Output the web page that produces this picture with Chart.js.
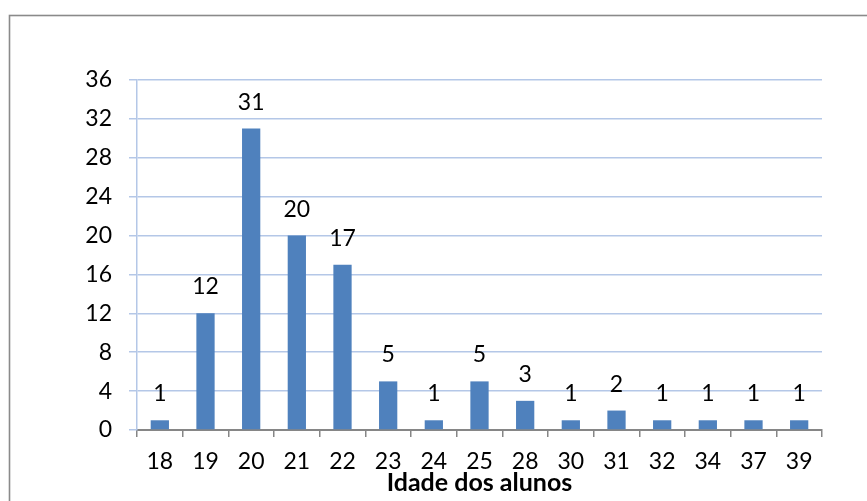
<!DOCTYPE html>
<html>
<head>
<meta charset="utf-8">
<script src="https://cdn.jsdelivr.net/npm/chart.js@4/dist/chart.umd.min.js"></script>
<style>
  html, body { margin: 0; padding: 0; background: #ffffff; overflow: hidden; }
  #wrap { width: 867px; height: 501px; position: relative; }
</style>
</head>
<body>
<div id="wrap"><canvas id="c" width="867" height="501"></canvas></div>
<script>
// Age of the students and how many students have each age
const ages = ['18', '19', '20', '21', '22', '23', '24', '25', '28', '30', '31', '32', '34', '37', '39'];
const counts = [1, 12, 31, 20, 17, 5, 1, 5, 3, 1, 2, 1, 1, 1, 1];
const yMin = 0;
const yMax = 36;
const yStep = 4;
const axisTitle = 'Idade dos alunos';

const FONT = 'Lato, "Open Sans", sans-serif';
const TEXT_SIZE = 23;

// Grey frame around the whole chart
const framePlugin = {
  id: 'frame',
  beforeDraw(chart) {
    const ctx = chart.ctx;
    ctx.save();
    ctx.fillStyle = '#ffffff';
    ctx.fillRect(0, 0, chart.width, chart.height);
    ctx.strokeStyle = '#8a8a8a';
    ctx.lineWidth = 1.6;
    ctx.strokeRect(9.5, 15.5, chart.width + 50, chart.height + 50);
    ctx.restore();
  }
};

// Value written above each bar
const valueLabels = {
  id: 'valueLabels',
  afterDatasetsDraw(chart) {
    const ctx = chart.ctx;
    const meta = chart.getDatasetMeta(0);
    ctx.save();
    ctx.font = TEXT_SIZE + 'px ' + FONT;
    ctx.fillStyle = '#000000';
    ctx.textAlign = 'center';
    ctx.textBaseline = 'alphabetic';
    meta.data.forEach((bar, i) => {
      ctx.fillText(String(counts[i]), bar.x, bar.y - 19);
    });
    ctx.restore();
  }
};

new Chart(document.getElementById('c'), {
  type: 'bar',
  data: {
    labels: ages,
    datasets: [{
      data: counts,
      backgroundColor: '#4f81bd',
      borderWidth: 0,
      barPercentage: 0.4,
      categoryPercentage: 1.0
    }]
  },
  options: {
    responsive: false,
    animation: false,
    devicePixelRatio: 1,
    layout: { padding: { top: 80, right: 45, left: 0, bottom: 0 } },
    plugins: {
      legend: { display: false },
      tooltip: { enabled: false }
    },
    scales: {
      x: {
        offset: true,
        grid: {
          offset: true,
          drawOnChartArea: false,
          drawTicks: true,
          tickLength: 7,
          color: '#868686',
          lineWidth: 1.5
        },
        border: { display: true, color: '#868686', width: 2 },
        ticks: {
          font: { family: FONT, size: TEXT_SIZE },
          color: '#000000',
          padding: 11,
          maxRotation: 0,
          autoSkip: false
        },
        title: {
          display: true,
          text: axisTitle,
          font: { family: FONT, size: 25, weight: 'bold' },
          color: '#000000',
          padding: { top: 0, bottom: 3 }
        },
        afterFit(scale) { scale.height = 71; }
      },
      y: {
        min: yMin,
        max: yMax,
        ticks: {
          stepSize: yStep,
          font: { family: FONT, size: TEXT_SIZE },
          color: '#000000',
          padding: 17
        },
        grid: {
          color: '#b4c7e7',
          lineWidth: 1.5,
          drawTicks: true,
          tickLength: 8
        },
        border: { display: true, color: '#b4c7e7', width: 1.5 },
        afterFit(scale) { scale.width = 137; }
      }
    }
  },
  plugins: [framePlugin, valueLabels]
});
</script>
</body>
</html>
